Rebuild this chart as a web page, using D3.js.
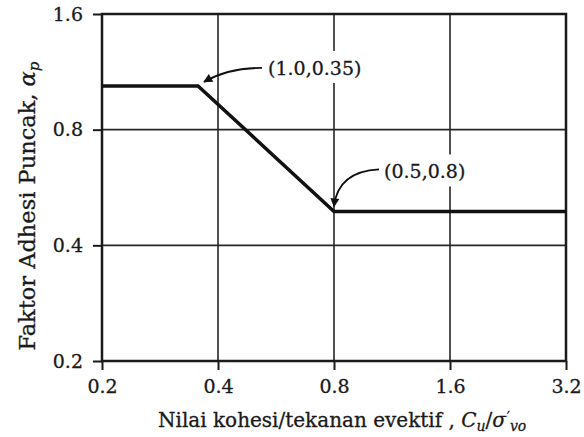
<!DOCTYPE html>
<html lang="id">
<head>
<meta charset="utf-8">
<title>Faktor Adhesi Puncak</title>
<script src="https://d3js.org/d3.v7.min.js"></script>
<style>
  body { margin: 0; background: #fff; }
  text { font-family: "DejaVu Serif", "Liberation Serif", serif; fill: #1a1a1a;
         stroke: #1a1a1a; stroke-width: 0.3px; }
</style>
</head>
<body>
<script>
// data
var xTicks = [0.2, 0.4, 0.8, 1.6, 3.2];
var yTicks = [0.2, 0.4, 0.8, 1.6];
var cuRatio = [0.2, 0.355, 0.8, 3.2];
var alphaP = [1.04, 1.04, 0.49, 0.49];
var notes = ["(1.0,0.35)", "(0.5,0.8)"];
var noteAt = [[0.355, 1.04], [0.8, 0.49]];

var W = 584, H = 437;
var m = {top: 14, right: 18, bottom: 76, left: 102};
var w = W - m.left - m.right, h = H - m.top - m.bottom;

var svg = d3.select("body").append("svg")
  .attr("width", W).attr("height", H);

var x = d3.scaleLog().base(2).domain([0.2, 3.2]).range([0, w]);
var y = d3.scaleLog().base(2).domain([0.2, 1.6]).range([h, 0]);

var g = svg.append("g").attr("transform", "translate(" + m.left + "," + m.top + ")");

// grid
g.selectAll(".vg").data(xTicks.slice(1, -1)).enter().append("line")
  .attr("x1", d => x(d)).attr("x2", d => x(d))
  .attr("y1", 0).attr("y2", h)
  .attr("stroke", "#262626").attr("stroke-width", 1.6);
g.selectAll(".hg").data(yTicks.slice(1, -1)).enter().append("line")
  .attr("x1", 0).attr("x2", w)
  .attr("y1", d => y(d)).attr("y2", d => y(d))
  .attr("stroke", "#262626").attr("stroke-width", 1.6);

// axes
var fmt = d3.format(".1f");
var xa = g.append("g").attr("transform", "translate(0," + h + ")")
  .call(d3.axisBottom(x).tickValues(xTicks).tickFormat(fmt).tickSize(9).tickPadding(10));
var ya = g.append("g")
  .call(d3.axisLeft(y).tickValues(yTicks).tickFormat(fmt).tickSize(9).tickPadding(10));
[xa, ya].forEach(function(a) {
  a.select(".domain").remove();
  a.selectAll(".tick line").attr("stroke", "#1a1a1a").attr("stroke-width", 2);
  a.selectAll(".tick text").attr("font-size", 19).attr("fill", "#1a1a1a");
});

// frame
g.append("rect").attr("width", w).attr("height", h)
  .attr("fill", "none").attr("stroke", "#1a1a1a").attr("stroke-width", 2.5);

// annotation labels with white box that breaks the grid
notes.forEach(function(t, i) {
  var px = x(noteAt[i][0]), py = y(noteAt[i][1]);
  var tx = i === 0 ? px + 70 : px + 50;
  var ty = i === 0 ? py - 11 : py - 33;
  var tt = g.append("text").attr("x", tx).attr("y", ty)
    .attr("font-size", 19).text(t);
  var bb = tt.node().getBBox();
  g.insert("rect", function() { return tt.node(); })
    .attr("x", bb.x - 3).attr("y", bb.y - 6)
    .attr("width", bb.width + 6).attr("height", bb.height + 10)
    .attr("fill", "#fff");
});

// line
var line = d3.line().x(d => x(d[0])).y(d => y(d[1]));
g.append("path").datum(cuRatio.map((c, i) => [c, alphaP[i]]))
  .attr("d", line).attr("fill", "none")
  .attr("stroke", "#111").attr("stroke-width", 3.5)
  .attr("stroke-linejoin", "miter");

// arrows
svg.append("defs").append("marker").attr("id", "ah")
  .attr("viewBox", "0 0 10 10").attr("refX", 9).attr("refY", 5)
  .attr("markerUnits", "userSpaceOnUse").attr("orient", "auto")
  .attr("markerWidth", 11).attr("markerHeight", 9)
  .append("path").attr("d", "M0,0L10,5L0,10z").attr("fill", "#111");

var p1 = [x(noteAt[0][0]), y(noteAt[0][1])];
g.append("path")
  .attr("d", "M" + (p1[0] + 64) + "," + (p1[1] - 18) +
    "Q" + (p1[0] + 30) + "," + (p1[1] - 18) + " " + (p1[0] + 6) + "," + (p1[1] - 4))
  .attr("fill", "none").attr("stroke", "#111").attr("stroke-width", 1.8)
  .attr("marker-end", "url(#ah)");
var p2 = [x(noteAt[1][0]), y(noteAt[1][1])];
g.append("path")
  .attr("d", "M" + (p2[0] + 45) + "," + (p2[1] - 42) +
    "Q" + (p2[0] + 4) + "," + (p2[1] - 40) + " " + (p2[0]) + "," + (p2[1] - 5))
  .attr("fill", "none").attr("stroke", "#111").attr("stroke-width", 1.8)
  .attr("marker-end", "url(#ah)");

// x title
var xt = svg.append("text").attr("x", 158).attr("y", 427).attr("font-size", 20);
xt.append("tspan").text("Nilai kohesi/tekanan evektif , ");
xt.append("tspan").attr("font-style", "italic").text("C");
xt.append("tspan").attr("font-style", "italic").attr("font-size", 14).attr("dy", 4).text("u");
xt.append("tspan").attr("dy", -4).text("/");
xt.append("tspan").attr("font-style", "italic").text("σ");
xt.append("tspan").attr("font-size", 13).attr("dx", 1).attr("dy", -6).text("′");
xt.append("tspan").attr("font-style", "italic").attr("font-size", 14).attr("dy", 10).text("vo");

// y title
var yt = svg.append("text").attr("transform", "translate(35,206) rotate(-90)")
  .attr("text-anchor", "middle").attr("font-size", 22.5);
yt.append("tspan").text("Faktor Adhesi Puncak, ");
yt.append("tspan").attr("font-style", "italic").text("α");
yt.append("tspan").attr("font-style", "italic").attr("font-size", 15).attr("dy", 4).text("p");
</script>
</body>
</html>
